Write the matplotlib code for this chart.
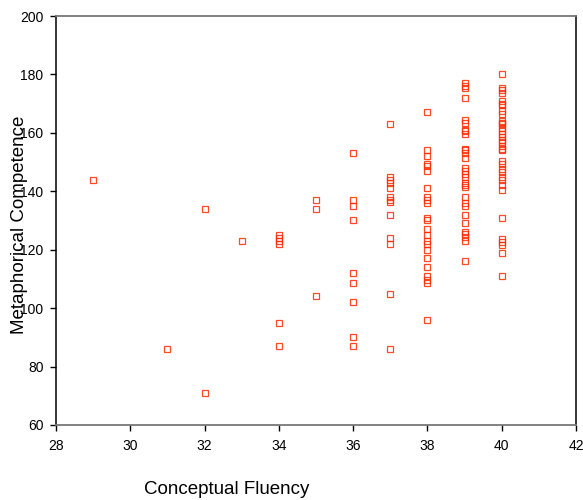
import matplotlib
matplotlib.use("Agg")
import matplotlib.pyplot as plt

plt.rcParams['font.family'] = ['Liberation Sans', 'DejaVu Sans']

# Data: Conceptual Fluency (x) vs Metaphorical Competence (y), grouped by x value
x29 = [144]
x31 = [86]
x32 = [134, 71]
x33 = [123]
x34 = [125, 124, 123, 122, 95, 87]
x35 = [137, 134, 104]
x36 = [153, 137, 135, 130, 112, 108.5, 102, 90, 87]
x37 = [163, 145, 144, 143, 141, 138, 137, 136.5, 132, 124, 122, 105, 86]
x38 = [167, 154, 152, 149.5, 148.5, 147, 141, 138, 137, 136, 131, 130, 127,
       125, 123, 122, 120, 117, 114, 111, 109.5, 108.5, 96]
x39 = [177, 176, 175.5, 172, 164.5, 163.5, 161, 160.5, 159.5, 154.5, 154, 153,
       151.5, 148, 147, 146, 145, 143, 142, 141.5, 138, 136, 135, 132, 129,
       126, 125.5, 124.5, 123, 116]
x40 = [180, 175.5, 174.5, 173.5, 171, 170, 169.5, 167.5, 166.5, 164, 163.5, 163,
       161.5, 160.5, 159.5, 158.5, 157.5, 157, 155.5, 154.5, 154, 150.5, 149.5,
       147.5, 146.5, 145, 144, 142, 140.5, 131, 123.5, 122.5, 121.5, 119, 111]

groups = {29: x29, 31: x31, 32: x32, 33: x33, 34: x34, 35: x35,
          36: x36, 37: x37, 38: x38, 39: x39, 40: x40}

xs, ys = [], []
for k, vals in groups.items():
    xs += [k] * len(vals)
    ys += vals

xticks = [28, 30, 32, 34, 36, 38, 40, 42]
yticks = [60, 80, 100, 120, 140, 160, 180, 200]

fig = plt.figure(figsize=(5.83, 5.0), dpi=100)
ax = fig.add_axes([56/583, 1-425/500, 520/583, 409/500])

ax.plot(xs, ys, linestyle='none', marker='s', markersize=5,
        markerfacecolor='none', markeredgecolor='#ff2a00', markeredgewidth=0.9,
        alpha=0.85)

ax.set_xlim(28, 42)
ax.set_ylim(60, 200)
ax.set_xticks(xticks)
ax.set_yticks(yticks)
ax.tick_params(axis='both', direction='out', length=4, width=1, labelsize=10,
               colors='black')
ax.tick_params(axis='x', pad=6)
ax.tick_params(axis='y', pad=5)

for s in ['left', 'right']:
    ax.spines[s].set_color('black')
    ax.spines[s].set_linewidth(1.1)
for s in ['top', 'bottom']:
    ax.spines[s].set_color('#777777')
    ax.spines[s].set_linewidth(1.3)

fig.text(20/583, 1-225/500, 'Metaphorical Competence', rotation=90,
         ha='center', va='center', fontsize=13.5)
fig.text(227/583, 1-490/500, 'Conceptual Fluency', ha='center', va='center',
         fontsize=13.5)

fig.savefig('out.png', dpi=100)
